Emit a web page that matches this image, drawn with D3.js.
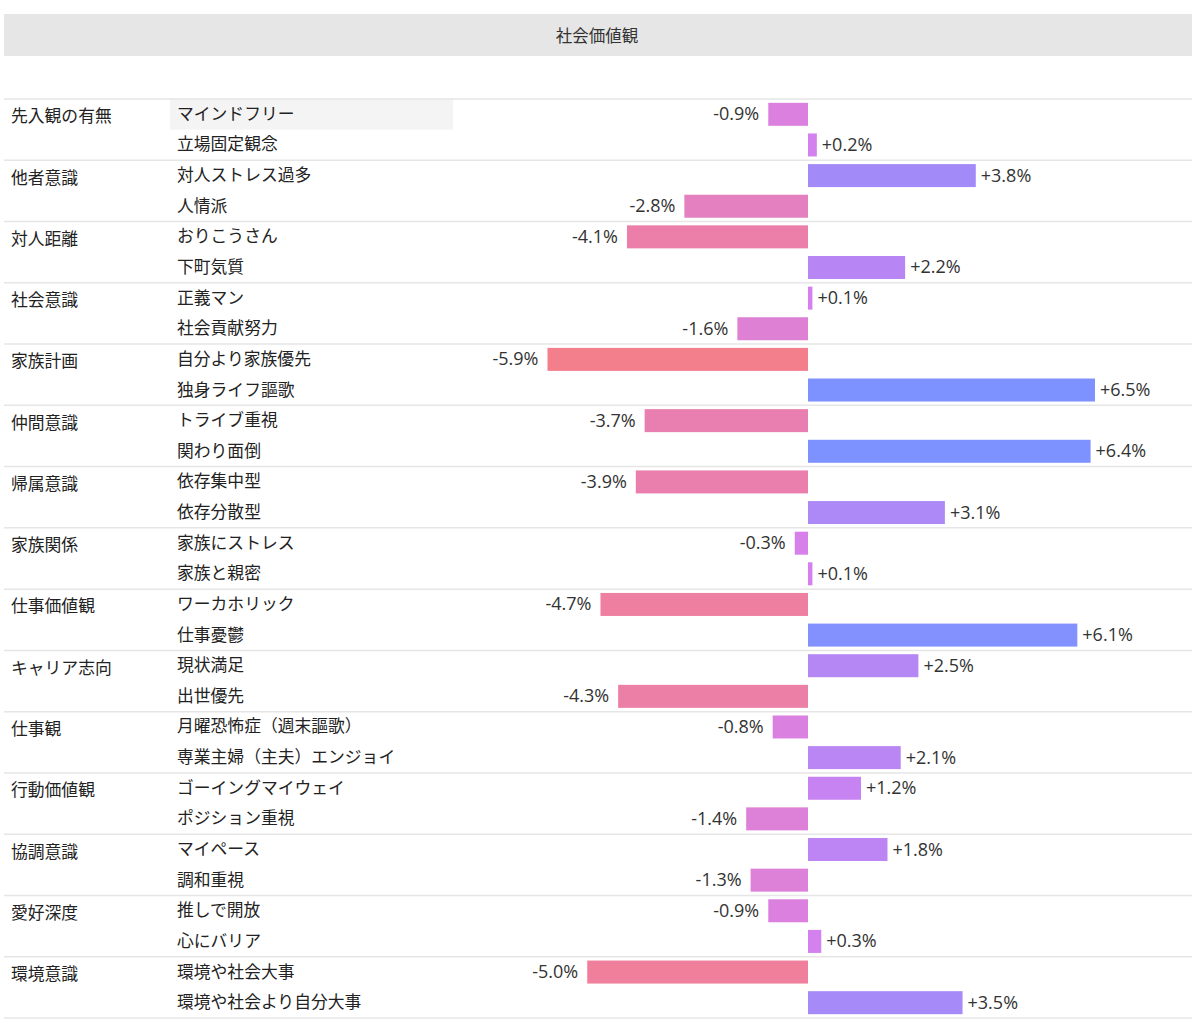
<!DOCTYPE html>
<html><head><meta charset="utf-8">
<script src="https://cdn.jsdelivr.net/npm/d3@7/dist/d3.min.js"></script>
<style>
body{margin:0;background:#fff;font-family:"Noto Sans CJK JP","Noto Sans",sans-serif;}
</style></head>
<body><svg id="c" width="1200" height="1022"></svg>
<script>
const title = "社会価値観";
const groups = ["先入観の有無","他者意識","対人距離","社会意識","家族計画","仲間意識","帰属意識","家族関係","仕事価値観","キャリア志向","仕事観","行動価値観","協調意識","愛好深度","環境意識"];
const items = ["マインドフリー","立場固定観念","対人ストレス過多","人情派","おりこうさん","下町気質","正義マン","社会貢献努力","自分より家族優先","独身ライフ謳歌","トライブ重視","関わり面倒","依存集中型","依存分散型","家族にストレス","家族と親密","ワーカホリック","仕事憂鬱","現状満足","出世優先","月曜恐怖症（週末謳歌）","専業主婦（主夫）エンジョイ","ゴーイングマイウェイ","ポジション重視","マイペース","調和重視","推しで開放","心にバリア","環境や社会大事","環境や社会より自分大事"];
const values = [-0.9,0.2,3.8,-2.8,-4.1,2.2,0.1,-1.6,-5.9,6.5,-3.7,6.4,-3.9,3.1,-0.3,0.1,-4.7,6.1,2.5,-4.3,-0.8,2.1,1.2,-1.4,1.8,-1.3,-0.9,0.3,-5.0,3.5];

const svg = d3.select("#c");
const top0 = 99, bottom0 = 1018;
const y = d3.scaleBand().domain(d3.range(items.length)).range([top0, bottom0]).paddingInner(0).paddingOuter(0);
const x = d3.scaleLinear().domain([0, 6.5]).range([808, 1095]);
const color = d3.scaleLinear().domain([-6, 0, 6.5]).range(["#f47f8a", "#d680ee", "#7d92ff"]);

// header
svg.append("rect").attr("x",4).attr("y",14).attr("width",1188).attr("height",42).attr("fill","#e6e6e6");
svg.append("text").attr("x",597).attr("y",35).attr("text-anchor","middle").attr("dominant-baseline","central")
  .attr("font-size",16.5).attr("fill","#333").text(title);

// highlight first row
svg.append("rect").attr("x",170).attr("y",y(0)).attr("width",283).attr("height",y.bandwidth()).attr("fill","#f4f4f4");

// group lines
const gh = y.bandwidth()*2;
for (let g = 0; g <= groups.length; g++) {
  svg.append("line").attr("x1",4).attr("x2",1192).attr("y1",top0+g*gh).attr("y2",top0+g*gh)
    .attr("stroke","#e6e6e6").attr("stroke-width",1.5);
}
// group labels
svg.selectAll("text.g").data(groups).join("text").attr("class","g")
  .attr("x",11).attr("y",(d,i)=>y(i*2)+y.bandwidth()/2+1).attr("dominant-baseline","central")
  .attr("font-size",16.8).attr("fill","#222").text(d=>d);
// item labels
svg.selectAll("text.i").data(items).join("text").attr("class","i")
  .attr("x",177).attr("y",(d,i)=>y(i)+y.bandwidth()/2-1.5).attr("dominant-baseline","central")
  .attr("font-size",16.8).attr("fill","#222").text(d=>d);

// bars
const bh = 23;
svg.selectAll("rect.b").data(values).join("rect").attr("class","b")
  .attr("x",d=>Math.min(x(0),x(d))).attr("width",d=>Math.abs(x(d)-x(0)))
  .attr("y",(d,i)=>y(i)+(y.bandwidth()-bh)/2).attr("height",bh)
  .attr("fill",d=>color(d));
// value labels
svg.selectAll("text.v").data(values).join("text").attr("class","v")
  .attr("x",d=>d<0? x(d)-9 : x(d)+5)
  .attr("text-anchor",d=>d<0?"end":"start")
  .attr("y",(d,i)=>y(i)+y.bandwidth()/2-1).attr("dominant-baseline","central")
  .attr("font-size",18).attr("fill","#333").attr("font-family","'Open Sans', 'Noto Sans', sans-serif")
  .text(d=>(d>0?"+":"")+d.toFixed(1)+"%");
</script></body></html>
